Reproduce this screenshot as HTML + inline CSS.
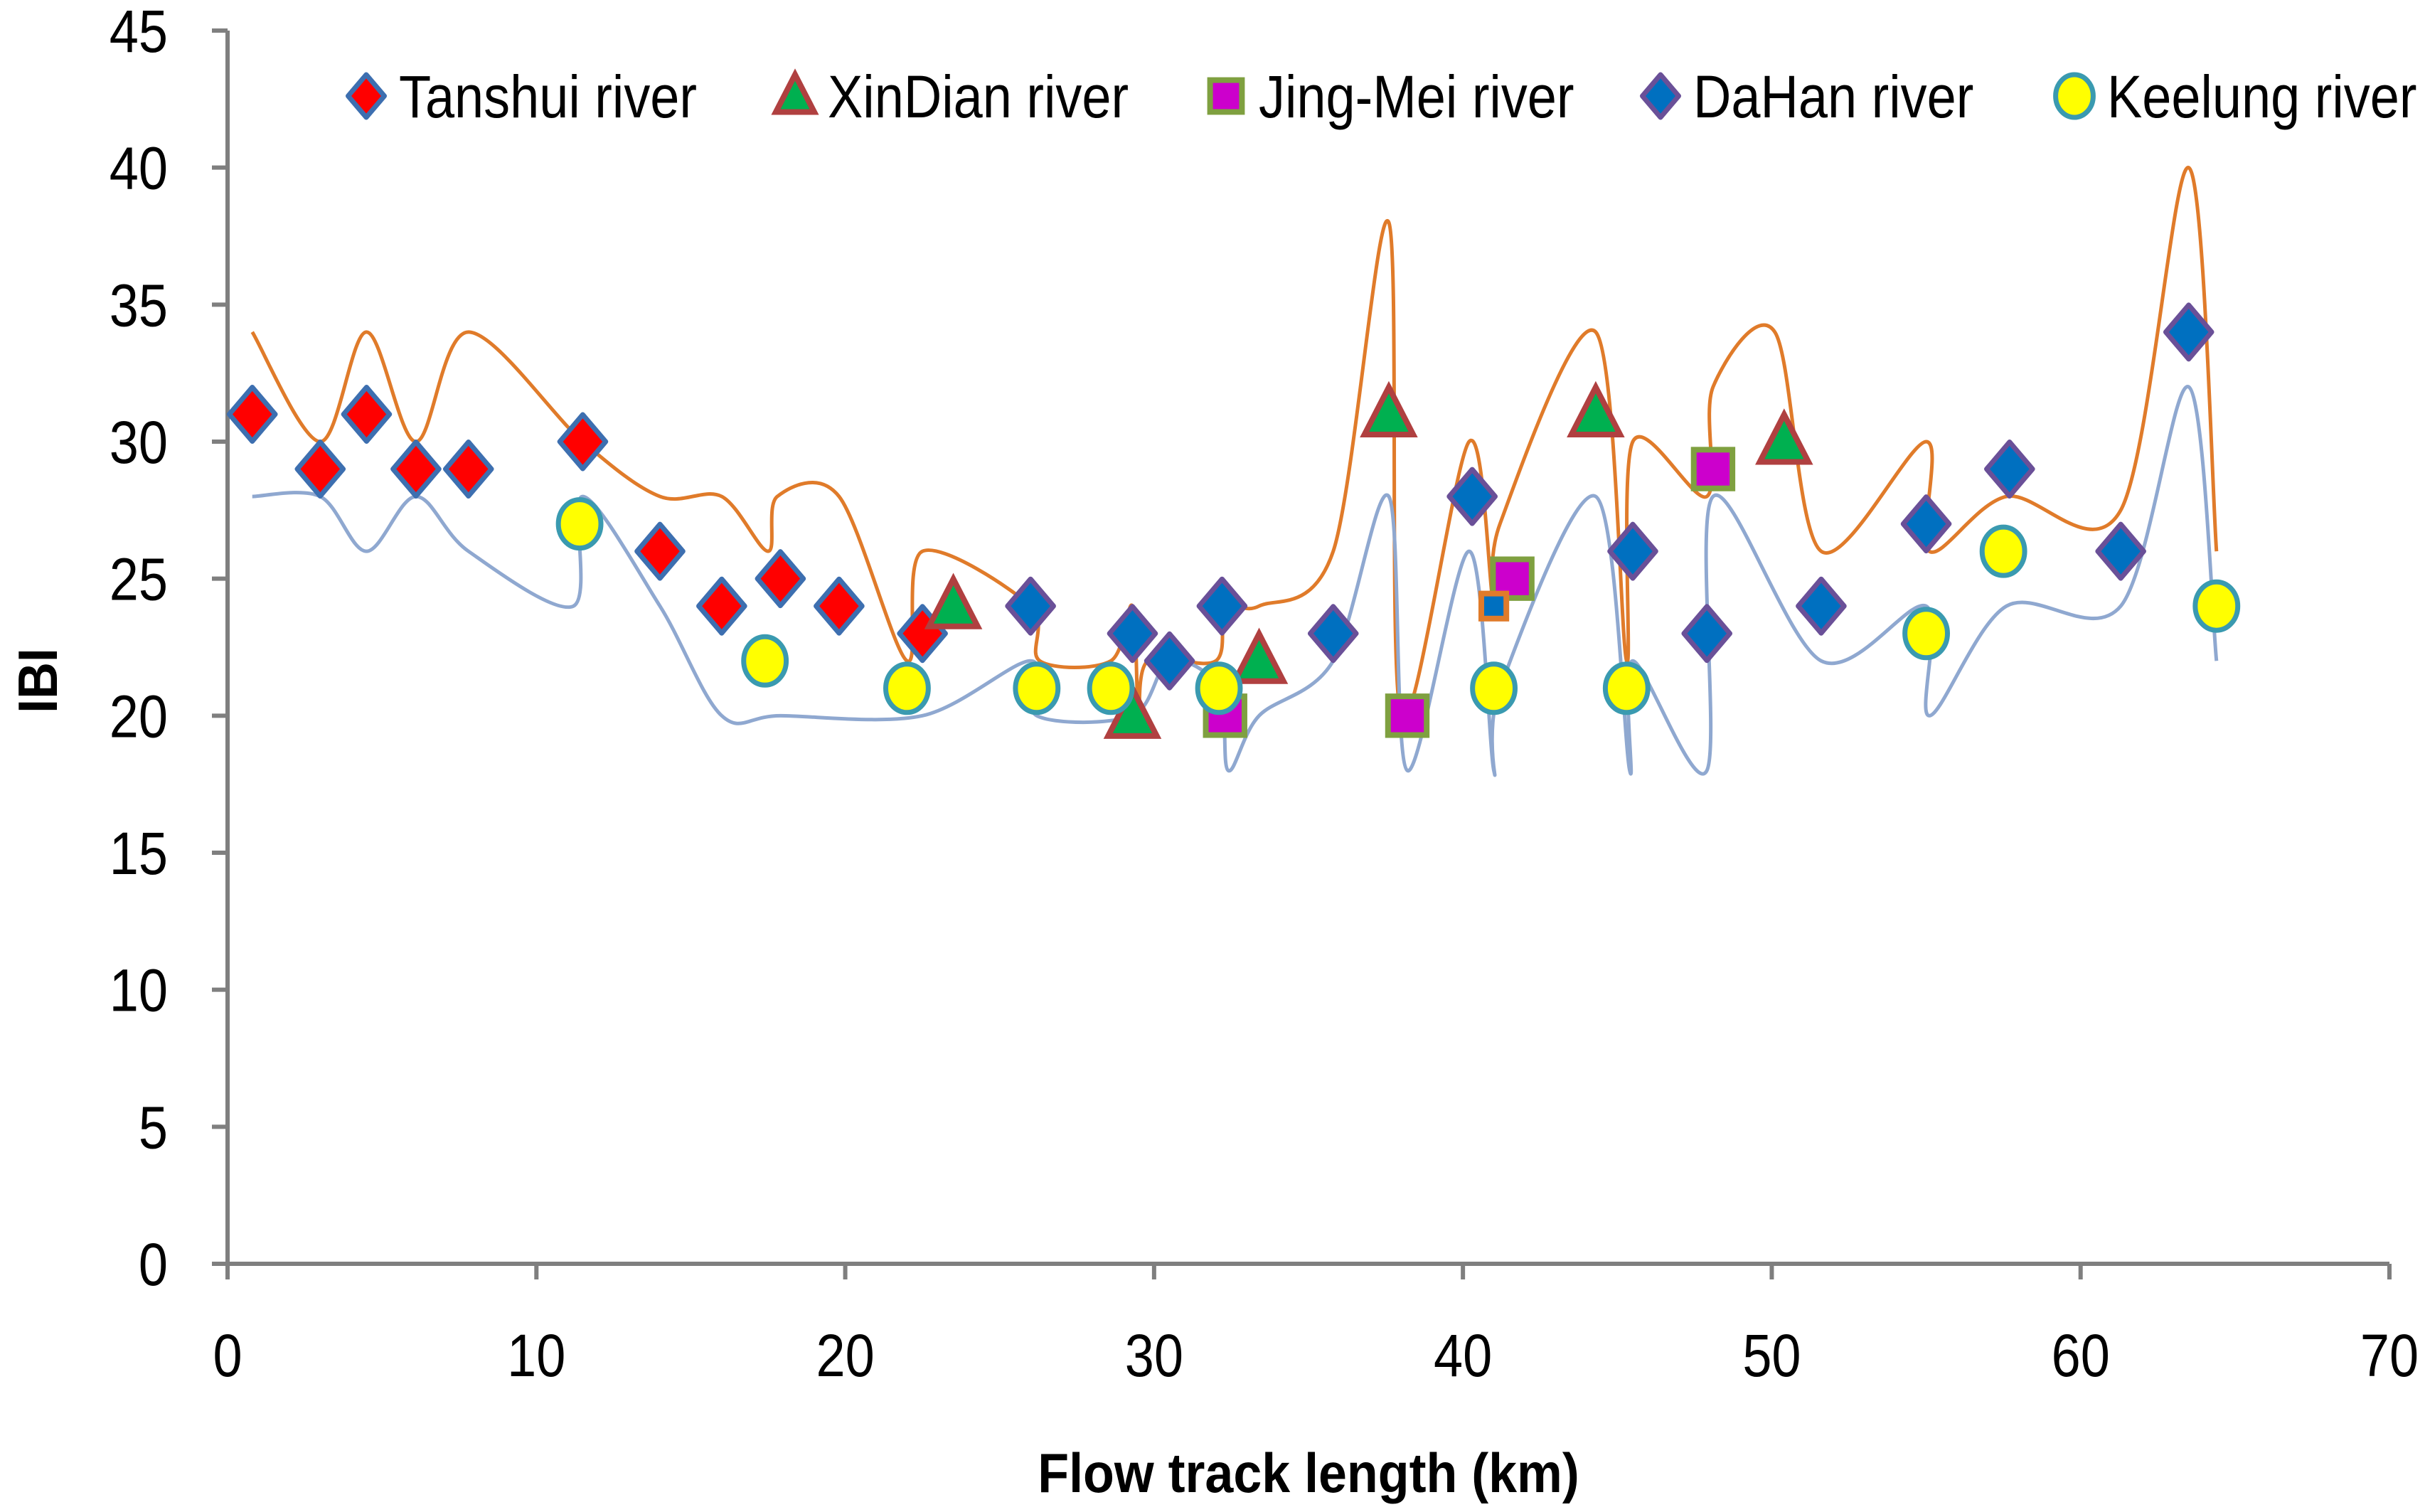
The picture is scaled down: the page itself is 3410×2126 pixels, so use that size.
<!DOCTYPE html>
<html><head><meta charset="utf-8"><style>
html,body{margin:0;padding:0;background:#fff;}
svg{display:block;font-family:"Liberation Sans",sans-serif;}
</style></head><body>
<svg id="chart" width="3410" height="2126" viewBox="0 0 3410 2126" xmlns="http://www.w3.org/2000/svg">
<g id="axes"></g><g id="lines"></g><g id="marks"></g><g id="legend"></g>
<text x="0" y="0" transform="translate(80,957) rotate(-90) scale(0.92,1)" text-anchor="middle" font-size="78" font-weight="bold">IBI</text>
<text x="0" y="0" transform="translate(1840,2098) scale(0.92,1)" text-anchor="middle" font-size="78" font-weight="bold">Flow track length (km)</text>
</svg>
<script>
const xTicks=[0,10,20,30,40,50,60,70];
const yTicks=[0,5,10,15,20,25,30,35,40,45];
const tanshuiX=[0.8,3,4.5,6.1,7.8,11.5,14,16,17.9,19.8,22.5];
const tanshuiY=[31,29,31,29,29,30,26,24,25,24,23];
const xindianX=[23.5,29.3,33.4,37.6,44.3,50.4];
const xindianY=[24,20,22,31,31,30];
const jingmeiX=[32.3,38.2,41.6,48.1];
const jingmeiY=[20,20,25,29];
const dahanX=[26,29.3,30.5,32.2,35.8,40.3,45.5,47.9,51.6,55,57.7,61.3,63.5];
const dahanY=[24,23,22,24,23,28,26,23,24,27,29,26,34];
const extraX=[41.0];
const extraY=[24];
const keelungX=[11.4,17.4,22,26.2,28.6,32.1,41,45.3,55,57.5,64.4];
const keelungY=[27,22,21,21,21,21,21,21,23,26,24];
const upperX=[0.8,3,4.5,6.1,7.8,11.5,14,16,17.5,17.8,19.8,22,22.5,26,26.3,28.6,29.3,29.5,29.8,32,32.3,33.4,35.8,37.6,38.0,40.2,41.0,41.2,44.3,45.3,45.5,47.9,48.1,50.1,51.6,55,55.1,57.6,61.3,63.5,64.4];
const upperY=[34,30,34,30,34,30,28,28,26,28,28,22,26,24,22,22,24,20,22,22,24,24,26,38,20,30,24,27,34,22,30,28,32,34,26,30,26,28,27.5,40,26];
const lowerX=[0.8,3,4.5,6.1,7.8,11.2,11.5,14,16,17.9,22.5,26,26.2,29.3,30.5,32.1,32.4,33.4,35.8,37.6,38.2,40.2,41,41.2,44.3,45.4,45.5,47.9,48.1,51.6,55,55.1,57.6,61.3,63.5,64.4];
const lowerY=[28,28,26,28,26,24,28,24,20,20,20,22,20,20,22,21,18,20,22,28,18,26,18,21,28,18,22,18,28,22,24,20,24,24,32,22];

const X0=320,X1=3360,Y0=1777,Y1=43;
const sx=v=>X0+(v-0)/(70-0)*(X1-X0);
const sy=v=>Y0-(v-0)/(45-0)*(Y0-Y1);
const NS="http://www.w3.org/2000/svg";
function mk(tag,parent,attrs){const e=document.createElementNS(NS,tag);for(const k in attrs)e.setAttribute(k,attrs[k]);parent.appendChild(e);return e;}
const axes=document.getElementById('axes');
let ax=mk('line',axes,{x1:X0,y1:Y1,x2:X0,y2:Y0,stroke:'#7f7f7f','stroke-width':6});


let bx=mk('line',axes,{x1:X0,y1:Y0,x2:X1,y2:Y0,stroke:'#7f7f7f','stroke-width':6});


yTicks.forEach(t=>{
  mk('line',axes,{x1:X0-22,y1:sy(t),x2:X0,y2:sy(t),stroke:'#7f7f7f','stroke-width':6});
  const tx=mk('text',axes,{x:0,y:0,transform:`translate(${X0-84},${sy(t)+30}) scale(0.88,1)`,'text-anchor':'end','font-size':84});
  tx.textContent=t;
  
  
});
xTicks.forEach(t=>{
  mk('line',axes,{x1:sx(t),y1:Y0,x2:sx(t),y2:Y0+22,stroke:'#7f7f7f','stroke-width':6});
  const tx=mk('text',axes,{x:0,y:0,transform:`translate(${sx(t)},${Y0+158}) scale(0.88,1)`,'text-anchor':'middle','font-size':84});
  tx.textContent=t;
  
  
});
function spline(xs,ys){
  const p=xs.map((x,i)=>[sx(x),sy(ys[i])]);
  let d='M'+p[0][0]+','+p[0][1];
  for(let i=0;i<p.length-1;i++){
    const p0=p[Math.max(0,i-1)],p1=p[i],p2=p[i+1],p3=p[Math.min(p.length-1,i+2)];
    const t=0.16;
    d+=' C'+(p1[0]+(p2[0]-p0[0])*t)+','+(p1[1]+(p2[1]-p0[1])*t)+' '+(p2[0]-(p3[0]-p1[0])*t)+','+(p2[1]-(p3[1]-p1[1])*t)+' '+p2[0]+','+p2[1];
  }
  return d;
}
const lines=document.getElementById('lines');
let l1=mk('path',lines,{d:spline(upperX,upperY),fill:'none',stroke:'#e07b2a','stroke-width':5});


let l2=mk('path',lines,{d:spline(lowerX,lowerY),fill:'none',stroke:'#8fa8d0','stroke-width':5});



function marker(g,type,cx,cy,fill,stroke,sz){
  let e;
  if(type==='diamond') e=mk('polygon',g,{points:`${cx},${cy-sz} ${cx+sz*0.85},${cy} ${cx},${cy+sz} ${cx-sz*0.85},${cy}`,fill,stroke,'stroke-width':7,'stroke-linejoin':'round'});
  else if(type==='tri') e=mk('polygon',g,{points:`${cx},${cy-sz} ${cx+sz*0.9},${cy+sz*0.75} ${cx-sz*0.9},${cy+sz*0.75}`,fill,stroke,'stroke-width':8});
  else if(type==='sq') e=mk('rect',g,{x:cx-sz*0.8,y:cy-sz*0.8,width:sz*1.6,height:sz*1.6,fill,stroke,'stroke-width':8});
  else e=mk('ellipse',g,{cx,cy,rx:sz*0.88,ry:sz,fill,stroke,'stroke-width':7});
  return e;
}
const marks=document.getElementById('marks');
const series=[
 ['tanshui',tanshuiX,tanshuiY,'diamond','#ff0000','#3d6fb0',38],
 ['dahan',dahanX,dahanY,'diamond','#0070c0','#6a5098',38],
 ['xindian',xindianX,xindianY,'tri','#00b050','#b04040',38],
 ['jingmei',jingmeiX,jingmeiY,'sq','#cc00cc','#7fa040',34],
 ['extra',extraX,extraY,'sq','#0070c0','#e07b2a',22],
 ['keelung',keelungX,keelungY,'circle','#ffff00','#3a9ab0',34]
];
series.forEach(s=>{
  s[1].forEach((x,i)=>{
    const e=marker(marks,s[3],sx(x),sy(s[2][i]),s[4],s[5],s[6]);
    
    
  });
});
const legend=document.getElementById('legend');
const legItems=[['Tanshui river','diamond','#ff0000','#3d6fb0',515],['XinDian river','tri','#00b050','#b04040',1118],['Jing-Mei river','sq','#cc00cc','#7fa040',1724],['DaHan river','diamond','#0070c0','#6a5098',2335],['Keelung river','circle','#ffff00','#3a9ab0',2917]];
legItems.forEach(it=>{
  const g=mk('g',legend,{});
  
  
  marker(g,it[1],it[4],135,it[2],it[3],it[1]==='sq'?28:30);
  const t=mk('text',g,{x:0,y:0,transform:`translate(${it[4]+46},${165}) scale(0.88,1)`,'font-size':84});
  t.textContent=it[0];
});
</script>
</body></html>
